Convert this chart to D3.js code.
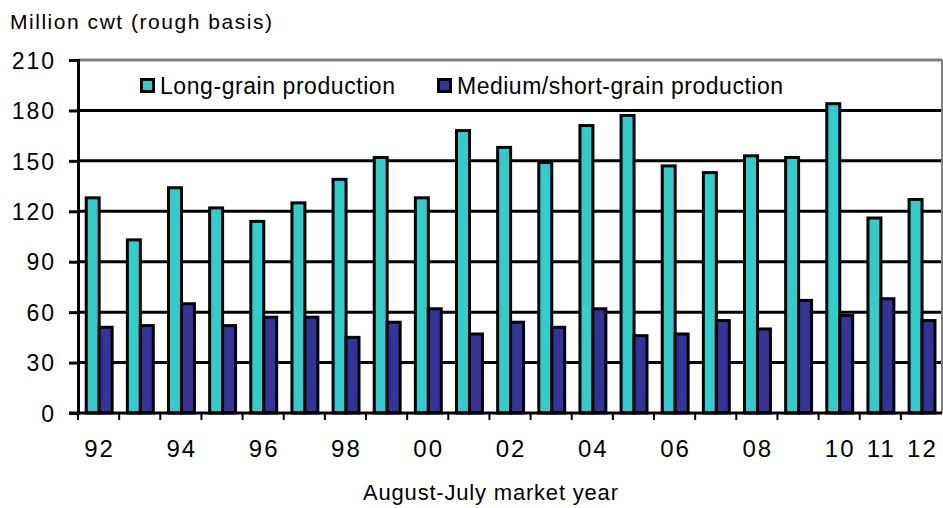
<!DOCTYPE html>
<html>
<head>
<meta charset="utf-8">
<script src="https://cdn.jsdelivr.net/npm/d3@7"></script>
<style>
  body { margin: 0; background: #fff; }
  text { font-family: "Liberation Sans", Arial, sans-serif; fill: #000; }
</style>
</head>
<body>
<div id="chart"></div>
<script>
// Data
const years = ["92","93","94","95","96","97","98","99","00","01","02","03","04","05","06","07","08","09","10","11","12"];
const longGrain = [128, 103, 134, 122, 114, 125, 139, 152, 128, 168, 158, 149, 171, 177, 147, 143, 153, 152, 184, 116, 127];
const mediumShort = [51, 52, 65, 52, 57, 57, 45, 54, 62, 47, 54, 51, 62, 46, 47, 55, 50, 67, 58, 68, 55];
const seriesNames = ["Long-grain production", "Medium/short-grain production"];
const tickLabels = ["92","94","96","98","00","02","04","06","08","10","11","12"];
const yTicks = [0, 30, 60, 90, 120, 150, 180, 210];

const width = 943, height = 508;
const margin = { top: 60, right: 1, bottom: 95, left: 78 };
const plot_w = width - margin.left - margin.right;
const plot_h = height - margin.top - margin.bottom;

const svg = d3.select("#chart").append("svg")
    .attr("width", width)
    .attr("height", height);

const g = svg.append("g")
    .attr("transform", `translate(${margin.left},${margin.top})`);

// Scales
const x0 = d3.scaleBand().domain(years).range([0, plot_w]);
const x1 = d3.scaleBand().domain(seriesNames)
    .range([x0.bandwidth() * 0.2, x0.bandwidth() * 0.83]);
const y = d3.scaleLinear().domain([0, 210]).range([plot_h, 0]);
const colour = d3.scaleOrdinal().domain(seriesNames).range(["#33CCCC", "#333399"]);

const dataset = years.map((yr, i) => ({
    year: yr,
    values: [
        { name: seriesNames[0], value: longGrain[i] },
        { name: seriesNames[1], value: mediumShort[i] }
    ]
}));

// Gridlines
g.selectAll(".grid")
    .data(yTicks.filter(d => d > 0 && d < 210))
    .enter()
    .append("line")
    .attr("x1", 0)
    .attr("x2", plot_w)
    .attr("y1", d => y(d))
    .attr("y2", d => y(d))
    .attr("stroke", "#000")
    .attr("stroke-width", 3);

// Plot border (top and right, grey)
g.append("line")
    .attr("x1", 0).attr("x2", plot_w)
    .attr("y1", 0).attr("y2", 0)
    .attr("stroke", "#808080").attr("stroke-width", 3);
g.append("line")
    .attr("x1", plot_w).attr("x2", plot_w)
    .attr("y1", 0).attr("y2", plot_h)
    .attr("stroke", "#808080").attr("stroke-width", 2);

// Bars
g.selectAll(".group")
    .data(dataset)
    .enter()
    .append("g")
    .attr("transform", d => `translate(${x0(d.year)},0)`)
    .selectAll("rect")
    .data(d => d.values)
    .enter()
    .append("rect")
    .attr("x", d => x1(d.name))
    .attr("y", d => y(d.value))
    .attr("width", x1.bandwidth())
    .attr("height", d => plot_h - y(d.value))
    .attr("fill", d => colour(d.name))
    .attr("stroke", "#000")
    .attr("stroke-width", 3);

// Y axis
const yAxis = d3.axisLeft(y).tickValues(yTicks).tickSize(9).tickPadding(13);
const yg = g.append("g").call(yAxis);
yg.select(".domain").attr("stroke", "#000").attr("stroke-width", 3);
yg.selectAll(".tick line").attr("stroke-width", 3);
yg.selectAll(".tick text")
    .style("font-size", "23px")
    .style("letter-spacing", "2px")
    .attr("dy", "0.36em");

// X axis (ticks at category boundaries)
const xg = g.append("g").attr("transform", `translate(0,${plot_h})`);
xg.append("line")
    .attr("x1", -9).attr("x2", plot_w)
    .attr("stroke", "#000").attr("stroke-width", 3);
xg.selectAll(".xtick")
    .data(years)
    .enter()
    .append("line")
    .attr("x1", d => x0(d))
    .attr("x2", d => x0(d))
    .attr("y1", 0).attr("y2", 7)
    .attr("stroke", "#000").attr("stroke-width", 2);
xg.selectAll(".xlabel")
    .data(tickLabels)
    .enter()
    .append("text")
    .attr("x", d => x0(d) + x0.bandwidth() / 2 + 1)
    .attr("y", 44)
    .attr("text-anchor", "middle")
    .style("font-size", "24px")
    .style("letter-spacing", "2px")
    .text(d => d);

// Axis titles
svg.append("text")
    .attr("x", 10)
    .attr("y", 29)
    .attr("textLength", 262)
    .attr("lengthAdjust", "spacing")
    .style("font-size", "21px")
    .text("Million cwt (rough basis)");

svg.append("text")
    .attr("x", 363)
    .attr("y", 500)
    .attr("textLength", 255)
    .attr("lengthAdjust", "spacing")
    .style("font-size", "22px")
    .text("August-July market year");

// Legend
const legendX = [141.5, 438.5];
const legendLen = [235, 326];
seriesNames.forEach((name, i) => {
    svg.append("rect")
        .attr("x", legendX[i])
        .attr("y", 79.5)
        .attr("width", 12)
        .attr("height", 12)
        .attr("fill", colour(name))
        .attr("stroke", "#000")
        .attr("stroke-width", 3);
    svg.append("text")
        .attr("x", legendX[i] + 18.5)
        .attr("y", 94)
        .attr("textLength", legendLen[i])
        .attr("lengthAdjust", "spacing")
        .style("font-size", "23px")
        .text(name);
});
</script>
</body>
</html>
